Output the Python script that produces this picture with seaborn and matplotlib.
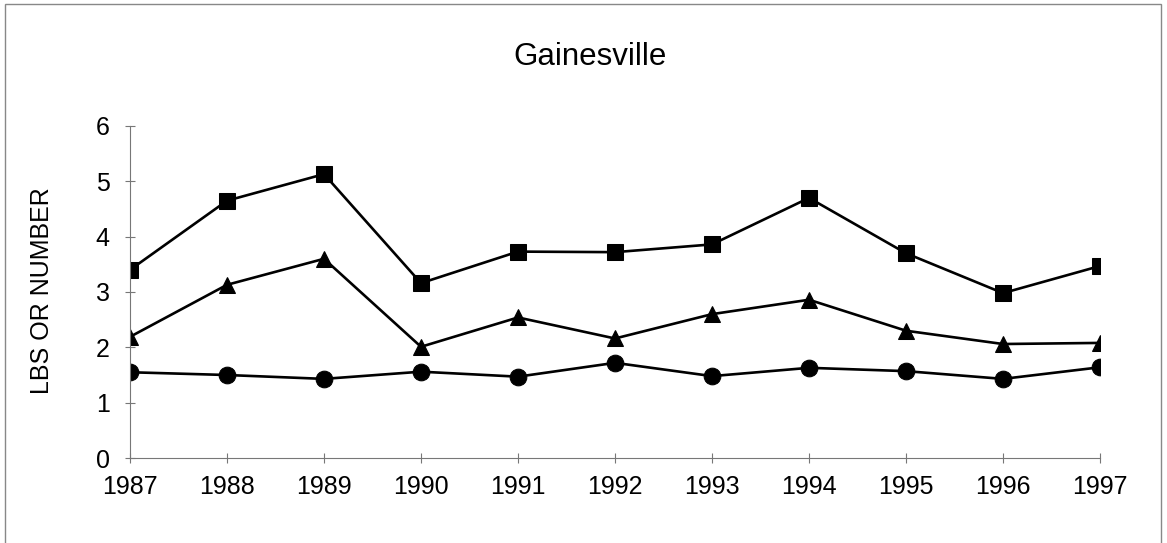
import pandas as pd
import matplotlib
matplotlib.use("Agg")
import matplotlib.pyplot as plt
from matplotlib.patches import Rectangle
import seaborn as sns

years = [1987, 1988, 1989, 1990, 1991, 1992, 1993, 1994, 1995, 1996, 1997]
squares = [3.40, 4.65, 5.13, 3.16, 3.73, 3.72, 3.86, 4.70, 3.70, 2.98, 3.47]
triangles = [2.19, 3.13, 3.60, 2.01, 2.54, 2.16, 2.60, 2.86, 2.30, 2.06, 2.08]
circles = [1.55, 1.50, 1.43, 1.56, 1.47, 1.72, 1.48, 1.63, 1.57, 1.43, 1.64]

sns.set_style("white")
plt.rcParams["font.family"] = ["Liberation Sans", "DejaVu Sans"]
plt.rcParams["text.color"] = "black"

fig = plt.figure(figsize=(11.67, 5.43), dpi=100)
ax = fig.add_axes([0.1114, 0.1565, 0.8312, 0.6115])

series = [(squares, "s", 11.5), (triangles, "^", 11), (circles, "o", 12)]
for vals, mk, ms in series:
    df = pd.DataFrame({"year": years, "value": vals})
    sns.lineplot(data=df, x="year", y="value", ax=ax, color="black",
                 marker=mk, markersize=ms, linewidth=1.9,
                 markeredgecolor="black", legend=False)

ax.set_xlim(1987, 1997)
ax.set_ylim(0, 6)
ax.set_xticks(years)
ax.set_yticks(range(0, 7))
ax.set_xlabel("")
ax.set_ylabel("")

for s in ["top", "right"]:
    ax.spines[s].set_visible(False)
for s in ["left", "bottom"]:
    ax.spines[s].set_color("#777777")
    ax.spines[s].set_linewidth(0.8)

ax.tick_params(axis="both", direction="inout", length=7, width=0.8,
               color="#777777", labelsize=18, labelcolor="black")
ax.tick_params(axis="y", pad=11)
ax.tick_params(axis="x", pad=9)
ax.tick_params(left=True, bottom=True)

fig.text(0.506, 0.895, "Gainesville", ha="center", va="center",
         fontsize=22.5, color="black")
fig.text(0.036, 0.465, "LBS OR NUMBER", ha="center", va="center",
         rotation=90, fontsize=18, color="black")

fig.patches.append(Rectangle((0.004, -0.02), 0.991, 1.012, transform=fig.transFigure,
                             fill=False, edgecolor="#888888", linewidth=1))

fig.savefig("out.png", dpi=100)
